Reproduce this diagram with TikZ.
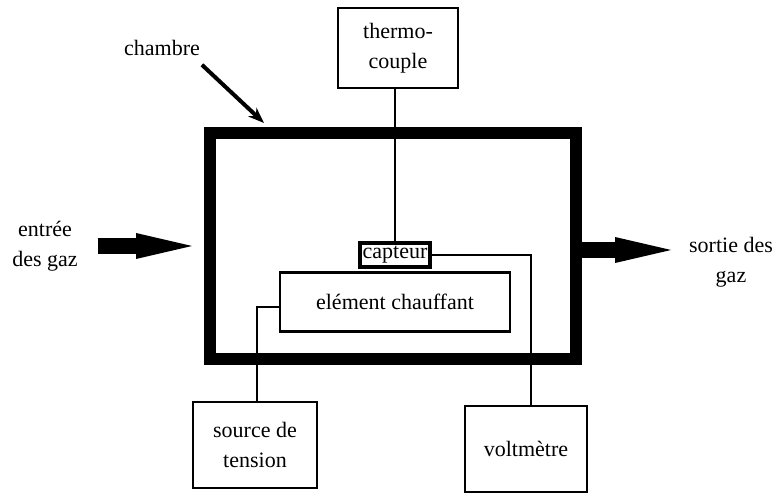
\documentclass[tikz,border=0pt]{standalone}
\usepackage{fontspec}
\setmainfont{Liberation Serif}
\newfontfamily\serifgaz{Liberation Serif}
\usetikzlibrary{arrows.meta, positioning}

\tikzset{
  boite/.style={draw, line width=1.4pt, align=center, inner sep=2pt},
  fil/.style={line width=1.1pt},
  gaz/.style={line width=8pt, -{Triangle[length=28pt, width=13pt, line width=0pt]}},
}

\begin{document}
\begin{tikzpicture}[x=0.5pt, y=-0.5pt, font=\serifgaz\fontsize{11}{15}\selectfont]
    \useasboundingbox (0,0) rectangle (778,496);

    % Chambre
    \node[draw, line width=6pt, minimum width=183pt, minimum height=113pt] (chambre) at (393,246) {};
    \node (lblchambre) at (162,48) {chambre};
    \draw[line width=2pt, -{Stealth[length=8pt, width=6pt]}] ([shift={(-2.5pt,-1pt)}]lblchambre.south east) -- ([shift={(30pt,2pt)}]chambre.north west);

    % Blocs
    \node[boite, minimum width=60pt, minimum height=40pt] (thermo) at (398,48) {thermo-\\couple};
    \node[draw, line width=1.6pt, inner sep=0.8pt, minimum width=35pt, minimum height=12pt] (capteur) at (395,255) {capteur};
    \node[boite, minimum width=115pt, minimum height=29.5pt] (element) at (395,302) {elément chauffant};
    \node[boite, minimum width=62pt, minimum height=43pt] (source) at (255,445) {source de\\tension};
    \node[boite, minimum width=61pt, minimum height=43pt] (voltm) at (526,449) {voltmètre};

    % Fils
    \draw[fil] (capteur.north |- thermo.south) -- (capteur.north);
    \draw[fil] (capteur.east) -| ([xshift=2.5pt]voltm.north);
    \draw[fil] ([yshift=-2.5pt]element.west) -| ([xshift=1pt]source.north);

    % Gaz
    \node[align=center] (entree) at (45,246) {entrée\\des gaz};
    \node[align=center] (sortie) at (731,262) {sortie des\\gaz};
    \draw[gaz, shorten <=6.5pt, shorten >=6pt] (entree.east) -- (chambre.west |- entree.east);
    \draw[gaz, shorten >=5.5pt] ([yshift=-2pt]chambre.east) -- ([yshift=-2pt]chambre.east -| sortie.west);
\end{tikzpicture}
\end{document}
